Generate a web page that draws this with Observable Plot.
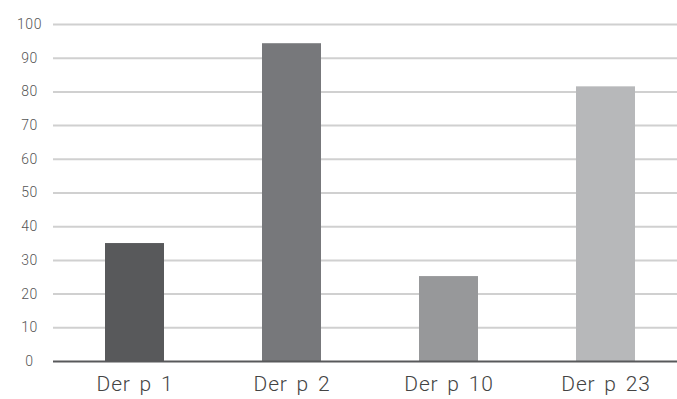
<!DOCTYPE html>
<html>
<head>
<meta charset="utf-8">
<script src="https://cdn.jsdelivr.net/npm/d3@7"></script>
<script src="https://cdn.jsdelivr.net/npm/@observablehq/plot@0.6"></script>
<style>
  html, body { margin: 0; padding: 0; background: #fff; }
  #chart svg { display: block; }
</style>
</head>
<body>
<div id="chart"></div>
<script>
const categories = ["Der p 1", "Der p 2", "Der p 10", "Der p 23"];
const values = [35, 94.3, 25.2, 81.5];
const yTicks = [0, 10, 20, 30, 40, 50, 60, 70, 80, 90, 100];
const barColors = ["#58595b", "#77787b", "#97989a", "#b7b8ba"];

const data = categories.map((c, i) => ({category: c, value: values[i]}));

const chart = Plot.plot({
  width: 677,
  height: 399,
  marginLeft: 53,
  marginRight: 0,
  marginTop: 24,
  marginBottom: 38,
  style: {fontFamily: "Roboto, 'Liberation Sans', sans-serif", background: "#fff"},
  x: {domain: categories, range: [54.75, 684.75], paddingInner: 0.625, paddingOuter: 0.3125, label: null},
  y: {domain: [0, 100], label: null},
  color: {domain: categories, range: barColors},
  marks: [
    Plot.ruleY(yTicks.filter(d => d > 0), {stroke: "#d0d0d0", strokeWidth: 2}),
    Plot.barY(data, {x: "category", y: "value", fill: "category"}),
    Plot.ruleY([0], {stroke: "#58595b", strokeWidth: 2}),
    Plot.axisY({ticks: yTicks, tickSize: 0, tickPadding: 24, textAnchor: "middle",
      fontSize: 14, fill: "#555", fontWeight: 300, label: null}),
    Plot.axisX({tickSize: 0, tickPadding: 15, fontSize: 21, fill: "#444", fontWeight: 300, label: null})
  ]
});
d3.select(chart).selectAll("g[aria-label='x-axis tick label'] text")
  .style("letter-spacing", "0.8px").style("word-spacing", "3px");
d3.select(chart).selectAll("g[aria-label='y-axis tick label'] text").style("letter-spacing", "0.6px");
document.getElementById("chart").appendChild(chart);
</script>
</body>
</html>
